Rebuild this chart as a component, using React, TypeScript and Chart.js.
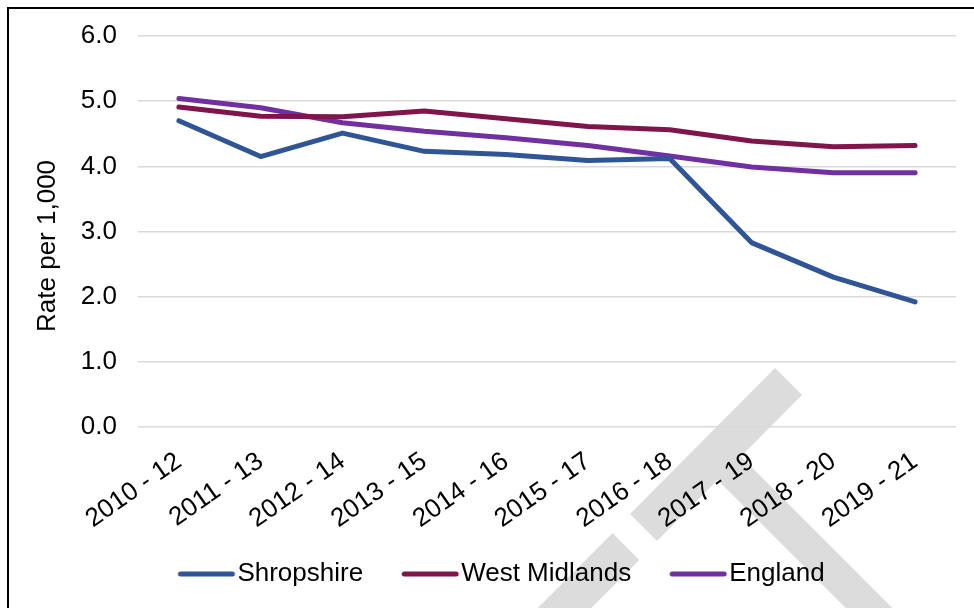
import React, { useEffect, useRef } from 'react';
import { Chart, registerables } from 'chart.js';

Chart.register(...registerables);

const categories = ['2010 - 12', '2011 - 13', '2012 - 14', '2013 - 15', '2014 - 16', '2015 - 17', '2016 - 18', '2017 - 19', '2018 - 20', '2019 - 21'];
const shropshire = [4.70, 4.15, 4.51, 4.23, 4.18, 4.09, 4.12, 2.83, 2.30, 1.92];
const westMidlands = [4.91, 4.77, 4.76, 4.85, 4.73, 4.61, 4.56, 4.39, 4.30, 4.32];
const england = [5.04, 4.90, 4.67, 4.54, 4.44, 4.32, 4.16, 3.99, 3.90, 3.90];
const seriesNames = ['Shropshire', 'West Midlands', 'England'];
const seriesColors = ['#2F5597', '#7F154B', '#7030A0'];
const yTicks = [0, 1, 2, 3, 4, 5, 6];
const yTitle = 'Rate per 1,000';

const FONT = "'Liberation Sans', Arial, sans-serif";

// legend swatch: a rounded line drawn into a small canvas (box width 46, centred at 23)
function makeSwatch(color: string) {
  const c = document.createElement('canvas');
  c.width = 116;
  c.height = 8;
  const g = c.getContext('2d')!;
  g.strokeStyle = color;
  g.lineWidth = 5;
  g.lineCap = 'round';
  g.beginPath();
  g.moveTo(37, 4);
  g.lineTo(89, 4);
  g.stroke();
  return c;
}

const watermark = {
  id: 'watermark',
  beforeDraw(chart: any) {
    const ctx = chart.ctx;
    const ox = 9, oy = 9;
    const band = (x1: number, y1: number, x2: number, y2: number, w: number) => {
      ctx.beginPath();
      ctx.lineWidth = w;
      ctx.lineCap = 'butt';
      ctx.moveTo(x1 - ox, y1 - oy);
      ctx.lineTo(x2 - ox, y2 - oy);
      ctx.stroke();
    };
    ctx.save();
    ctx.strokeStyle = '#dcdcdc';
    band(643.5, 527.5, 788.5, 381.5, 38);
    band(716, 455, 905, 644, 33);
    band(626, 546.5, 530, 642.5, 38);
    ctx.restore();
  },
};

const legendShift = {
  id: 'legendShift',
  afterLayout(chart: any) {
    if (chart.legend) {
      chart.legend.left += 19;
      chart.legend.right += 19;
      chart.legend.top -= 9;
      chart.legend.bottom -= 9;
    }
  },
};

export default function App() {
  const ref = useRef<HTMLCanvasElement | null>(null);
  useEffect(() => {
    if (!ref.current) return;
    const data = [shropshire, westMidlands, england];
    const chart = new Chart(ref.current, {
      type: 'line',
      data: {
        labels: categories,
        datasets: data.map((d, i) => ({
          label: seriesNames[i],
          data: d,
          borderColor: seriesColors[i],
          backgroundColor: seriesColors[i],
          borderWidth: 5,
          borderCapStyle: 'round',
          borderJoinStyle: 'round',
          pointRadius: 0,
          pointHoverRadius: 0,
          pointStyle: makeSwatch(seriesColors[i]),
          tension: 0,
        })),
      },
      options: {
        responsive: false,
        animation: false,
        layout: { padding: { top: 27, right: 38, bottom: 23, left: 0 } },
        plugins: {
          tooltip: { enabled: false },
          legend: {
            position: 'bottom',
            labels: {
              usePointStyle: true,
              pointStyleWidth: 46,
              padding: 39,
              color: '#000',
              font: { family: FONT, size: 26 },
            },
          },
        },
        scales: {
          x: {
            offset: true,
            grid: { display: false },
            border: { display: false },
            ticks: {
              color: '#000',
              font: { family: FONT, size: 26 },
              minRotation: 35,
              maxRotation: 35,
              padding: 11,
              autoSkip: false,
            },
            afterFit: (s: any) => { s.height = 104; },
          },
          y: {
            min: 0,
            max: 6,
            afterBuildTicks: (s: any) => { s.ticks = yTicks.map((v) => ({ value: v })); },
            grid: { color: '#d9d9d9', lineWidth: 1.5, drawTicks: false },
            border: { display: false },
            ticks: {
              color: '#000',
              font: { family: FONT, size: 26 },
              padding: 21,
              callback: (v: any) => Number(v).toFixed(1),
            },
            title: {
              display: true,
              text: yTitle + '    ',
              color: '#000',
              font: { family: FONT, size: 26 },
              padding: { top: 23, bottom: 0 },
            },
            afterFit: (s: any) => {
              s.width = 129;
              s.paddingTop = 0;
              s.paddingBottom = 0;
            },
          },
        },
      },
      plugins: [watermark, legendShift],
    } as any);
    return () => chart.destroy();
  }, []);

  return (
    <div style={{ position: 'fixed', left: 0, top: 0, width: 974, height: 608, overflow: 'hidden', background: '#fff' }}>
      <div style={{ position: 'absolute', left: 7, top: 7, width: 990, height: 620, border: '2px solid #000' }}>
        <canvas ref={ref} width={985} height={620} style={{ display: 'block', width: 985, height: 620 }} />
      </div>
    </div>
  );
}
